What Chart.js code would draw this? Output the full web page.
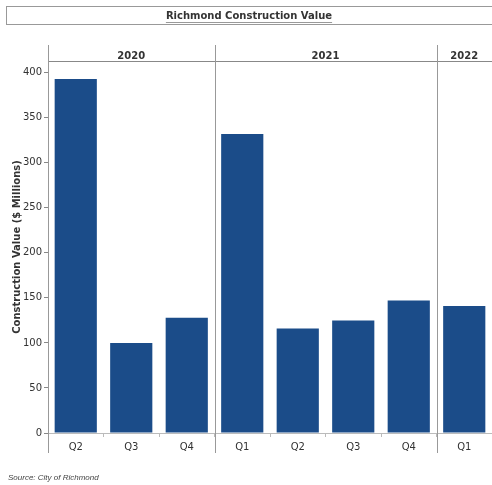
<!DOCTYPE html>
<html>
<head>
<meta charset="utf-8">
<script src="https://cdn.jsdelivr.net/npm/chart.js@4"></script>
<style>
  html, body { margin: 0; padding: 0; background: #fff; }
  #wrap { width: 492px; height: 485px; }
</style>
</head>
<body>
<div id="wrap"><canvas id="c"></canvas></div>
<script>
// Data
const quarters = ['Q2', 'Q3', 'Q4', 'Q1', 'Q2', 'Q3', 'Q4', 'Q1'];
const quarterYears = ['2020', '2020', '2020', '2021', '2021', '2021', '2021', '2022'];
const values = [393, 100, 128, 332, 116, 125, 147, 141];
const yMax = 413;   // axis runs a little past the last labelled tick
const yStep = 50;

const titleText = 'Richmond Construction Value';
const yTitle = 'Construction Value ($ Millions)';
const sourceText = 'Source: City of Richmond';

const FONT = '"DejaVu Sans", Verdana, sans-serif';
const TEXT = '#333';
const LINE = '#888';

// header band above the plot, year groups and the source note
const decor = {
  id: 'decor',
  afterDraw(chart) {
    const ctx = chart.ctx;
    const area = chart.chartArea;
    const x = chart.scales.x;
    const headTop = area.top - 16;
    const lineBottom = area.bottom + 20;

    ctx.save();

    // title box
    ctx.strokeStyle = '#999';
    ctx.lineWidth = 1;
    ctx.strokeRect(6.5, 6.5, chart.width, 18);
    ctx.fillStyle = TEXT;
    ctx.font = 'bold 10px ' + FONT;
    ctx.textAlign = 'center';
    ctx.textBaseline = 'middle';
    ctx.fillText(titleText, 249, 16);
    const tw = ctx.measureText(titleText).width;
    ctx.beginPath();
    ctx.moveTo(249 - tw / 2, 22.5);
    ctx.lineTo(249 + tw / 2, 22.5);
    ctx.stroke();

    // year header line
    ctx.strokeStyle = LINE;
    ctx.beginPath();
    ctx.moveTo(area.left, area.top + 0.5);
    ctx.lineTo(area.right, area.top + 0.5);
    ctx.stroke();

    // group boundaries
    const bounds = [area.left];
    for (let i = 1; i < quarterYears.length; i++) {
      if (quarterYears[i] !== quarterYears[i - 1]) {
        bounds.push((x.getPixelForValue(i - 1) + x.getPixelForValue(i)) / 2);
      }
    }
    bounds.push(area.right);

    ctx.strokeStyle = '#999';
    for (let b = 0; b < bounds.length - 1; b++) {
      const bx = Math.round(bounds[b]) + 0.5;
      ctx.beginPath();
      ctx.moveTo(bx, headTop);
      ctx.lineTo(bx, lineBottom);
      ctx.stroke();
    }

    // year labels
    const years = [...new Set(quarterYears)];
    ctx.fillStyle = TEXT;
    ctx.font = 'bold 10px ' + FONT;
    years.forEach((y, k) => {
      ctx.fillText(y, (bounds[k] + bounds[k + 1]) / 2, area.top - 5);
    });

    // source
    ctx.font = 'italic 8px "Liberation Sans", Arial, sans-serif';
    ctx.textAlign = 'left';
    ctx.fillStyle = '#444';
    ctx.fillText(sourceText, 8, 478);

    ctx.restore();
  }
};

new Chart(document.getElementById('c'), {
  type: 'bar',
  data: {
    labels: quarters,
    datasets: [{
      data: values,
      backgroundColor: '#1b4c89',
      borderWidth: 0,
      categoryPercentage: 1,
      barPercentage: 0.76
    }]
  },
  options: {
    responsive: true,
    maintainAspectRatio: false,
    animation: false,
    layout: { padding: { top: 61, right: 0, left: 0, bottom: 0 } },
    plugins: {
      legend: { display: false },
      tooltip: { enabled: false }
    },
    scales: {
      x: {
        grid: { display: true, drawOnChartArea: false, drawTicks: true, tickLength: 4, color: '#bbb', offset: true },
        border: { display: true, color: '#bbb' },
        ticks: { color: TEXT, font: { family: FONT, size: 10 }, padding: 4, maxRotation: 0 },
        afterFit(s) { s.height = 52; }
      },
      y: {
        min: 0,
        max: yMax,
        grid: { display: true, drawOnChartArea: false, drawTicks: true, tickLength: 4, color: '#888' },
        border: { display: false },
        ticks: { stepSize: yStep, color: TEXT, font: { family: FONT, size: 10 }, padding: 2 },
        title: {
          display: true,
          text: yTitle,
          color: TEXT,
          font: { family: FONT, size: 10, weight: 'bold' },
          padding: { top: 11, bottom: 0 }
        },
        afterBuildTicks(s) { s.ticks = s.ticks.filter(t => t.value % yStep === 0); },
        afterFit(s) { s.width = 48; }
      }
    }
  },
  plugins: [decor]
});
</script>
</body>
</html>
